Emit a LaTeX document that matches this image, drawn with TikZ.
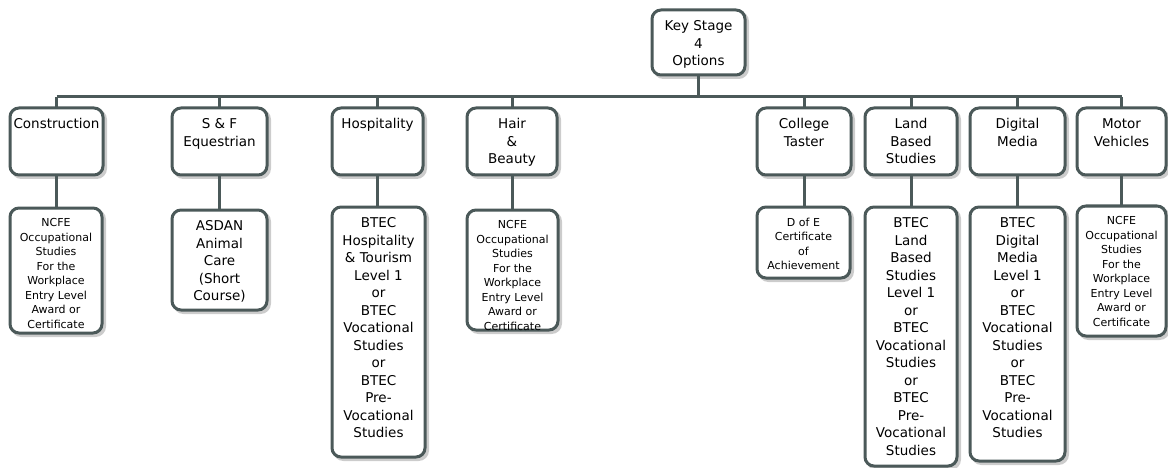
\documentclass[tikz,border=0pt]{standalone}
\usepackage{fontspec}
\setmainfont{DejaVu Sans}
\usetikzlibrary{shadows}
\definecolor{edge}{HTML}{4B5959}
\tikzset{
  box/.style={draw=edge, line width=3pt, rounded corners=9pt, fill=white, inner sep=0pt, outer sep=0pt,
    drop shadow={shadow xshift=2.5pt, shadow yshift=-2.5pt, opacity=1, fill=black!20, draw=black!20, line width=3pt}},
  big/.style={font=\fontsize{13.5}{17.5}\selectfont, align=center, inner sep=0pt, anchor=north},
  small/.style={font=\fontsize{11}{14.5}\selectfont, align=center, inner sep=0pt, anchor=north},
  conn/.style={draw=edge, line width=3pt}
}
% name, x1, y1, x2, y2, text style, text
\newcommand\mybox[7]{%
  \node[box, minimum width={#4-#2}, minimum height={#5-#3}] (#1) at ({(#2+#4)/2},{(#3+#5)/2}) {};
  \node[#6] (#1-t) at ([yshift=-10.5pt]#1.north) {#7};
}
\begin{document}
\begin{tikzpicture}[x=1pt,y=-1pt]
\useasboundingbox (0,0) rectangle (1168,468);
\coordinate (bar) at (0,97);
\mybox{top}{652}{10}{745}{75}{big}{Key Stage\\4\\Options}
\mybox{con}{10}{108}{103}{175}{big}{Construction}
\mybox{equ}{172}{108}{267}{175}{big}{S \& F\\Equestrian}
\mybox{hos}{332}{108}{423}{175}{big}{Hospitality}
\mybox{hair}{467}{108}{557}{175}{big}{Hair\\\&\\Beauty}
\mybox{col}{757}{108}{851}{175}{big}{College\\Taster}
\mybox{land}{865}{108}{957}{175}{big}{Land\\Based\\Studies}
\mybox{dig}{970}{108}{1065}{175}{big}{Digital\\Media}
\mybox{mot}{1077}{108}{1166}{175}{big}{Motor\\Vehicles}
\mybox{ncfea}{10}{208}{102}{333}{small}{NCFE\\Occupational\\Studies\\For the\\Workplace\\Entry Level\\Award or\\Certificate}
\mybox{asdan}{172}{210}{267}{310}{big}{ASDAN\\Animal\\Care\\(Short\\Course)}
\mybox{btech}{332}{207}{425}{457}{big}{BTEC\\Hospitality\\\& Tourism\\Level 1\\or\\BTEC\\Vocational\\Studies\\or\\BTEC\\Pre-\\Vocational\\Studies}
\mybox{ncfeb}{467}{210}{558}{330}{small}{NCFE\\Occupational\\Studies\\For the\\Workplace\\Entry Level\\Award or\\Certificate}
\mybox{doe}{757}{207}{850}{278}{small}{D of E\\Certificate\\of\\Achievement}
\mybox{btecl}{865}{207}{957}{466}{big}{BTEC\\Land\\Based\\Studies\\Level 1\\or\\BTEC\\Vocational\\Studies\\or\\BTEC\\Pre-\\Vocational\\Studies}
\mybox{btecd}{970}{207}{1065}{461}{big}{BTEC\\Digital\\Media\\Level 1\\or\\BTEC\\Vocational\\Studies\\or\\BTEC\\Pre-\\Vocational\\Studies}
\mybox{ncfec}{1077}{206}{1166}{336}{small}{NCFE\\Occupational\\Studies\\For the\\Workplace\\Entry Level\\Award or\\Certificate}
% tree connectors
\draw[conn] (top.south) -- (top.south |- bar);
\draw[conn] (con.north |- bar) -- (mot.north |- bar);
\foreach \n in {con,equ,hos,hair,col,land,dig,mot}
  \draw[conn] (\n.north) -- (\n.north |- bar);
\draw[conn] (con.south) -- (con.south |- ncfea.north);
\draw[conn] (equ.south) -- (equ.south |- asdan.north);
\draw[conn] (hos.south) -- (hos.south |- btech.north);
\draw[conn] (hair.south) -- (hair.south |- ncfeb.north);
\draw[conn] (col.south) -- (col.south |- doe.north);
\draw[conn] (land.south) -- (land.south |- btecl.north);
\draw[conn] (dig.south) -- (dig.south |- btecd.north);
\draw[conn] (mot.south) -- (mot.south |- ncfec.north);
\end{tikzpicture}
\end{document}
